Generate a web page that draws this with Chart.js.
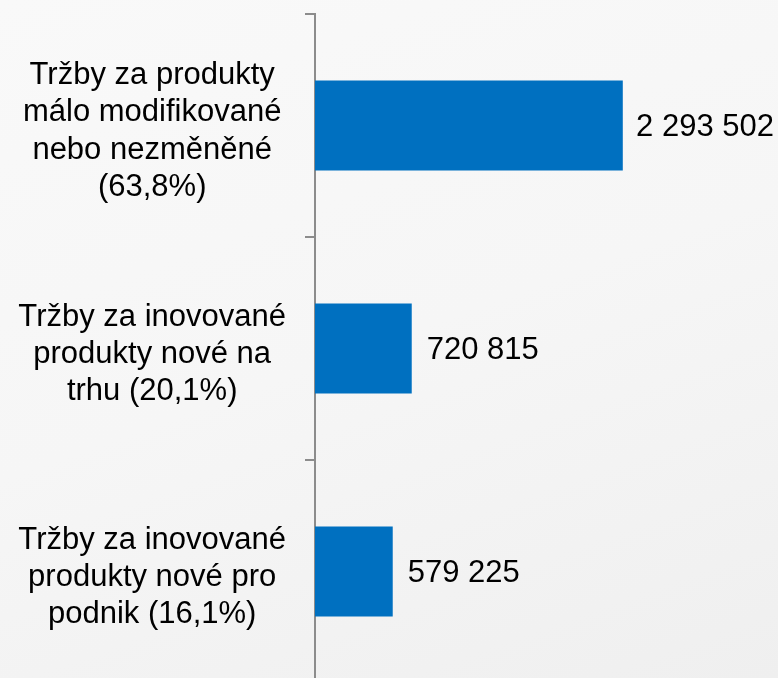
<!DOCTYPE html>
<html>
<head>
<meta charset="utf-8">
<script src="https://cdn.jsdelivr.net/npm/chart.js@4/dist/chart.umd.min.js"></script>
<style>
  html, body { margin: 0; padding: 0; width: 778px; height: 678px; overflow: hidden;
    background: linear-gradient(160deg, #f9f9f9 0%, #f6f6f6 50%, #efefef 100%); }
  #wrap { position: absolute; left: 0; top: 0; width: 778px; height: 690px; }
</style>
</head>
<body>
<div id="wrap"><canvas id="c" width="778" height="690"></canvas></div>
<script>
const categories = [
  ["Tržby za produkty", "málo modifikované", "nebo nezměněné", "(63,8%)"],
  ["Tržby za inovované", "produkty nové na", "trhu (20,1%)"],
  ["Tržby za inovované", "produkty nové pro", "podnik (16,1%)"]
];
const values = [2293502, 720815, 579225];
const barColor = "#0070C0";

function fmt(v) {
  return String(v).replace(/\B(?=(\d{3})+(?!\d))/g, " ");
}

const FONT = "'Liberation Sans', Arial, sans-serif";

const valueLabels = {
  id: "valueLabels",
  afterDatasetsDraw(chart) {
    const ctx = chart.ctx;
    const meta = chart.getDatasetMeta(0);
    ctx.save();
    ctx.font = "31px " + FONT;
    ctx.fillStyle = "#000";
    ctx.textBaseline = "middle";
    ctx.textAlign = "left";
    meta.data.forEach((bar, i) => {
      const txt = fmt(values[i]);
      const w = ctx.measureText(txt).width;
      let x = bar.x + 15;
      if (x + w > chart.width - 4) x = chart.width - 4 - w;
      ctx.fillText(txt, x, bar.y + 2);
    });
    ctx.restore();
  }
};

new Chart(document.getElementById("c"), {
  type: "bar",
  data: {
    labels: categories,
    datasets: [{
      data: values,
      backgroundColor: barColor,
      borderWidth: 0,
      barPercentage: 0.403,
      categoryPercentage: 1.0
    }]
  },
  options: {
    indexAxis: "y",
    responsive: false,
    animation: false,
    layout: { padding: { top: 14, bottom: 7, left: 0, right: 0 } },
    plugins: { legend: { display: false }, tooltip: { enabled: false } },
    scales: {
      x: {
        display: false,
        min: 0,
        max: 3450000
      },
      y: {
        afterFit(scale) {
          scale.width = 315;
          scale.paddingTop = 0;
          scale.paddingBottom = 0;
        },
        grid: {
          display: true,
          drawOnChartArea: false,
          drawTicks: true,
          tickLength: 10,
          color: "#8c8c8c",
          lineWidth: 2,
          offset: true
        },
        border: { display: true, color: "#8c8c8c", width: 2 },
        ticks: {
          crossAlign: "center",
          padding: 19,
          labelOffset: 6,
          color: "#000",
          font: { family: FONT, size: 31, lineHeight: 1.2 }
        }
      }
    }
  },
  plugins: [valueLabels]
});
</script>
</body>
</html>
